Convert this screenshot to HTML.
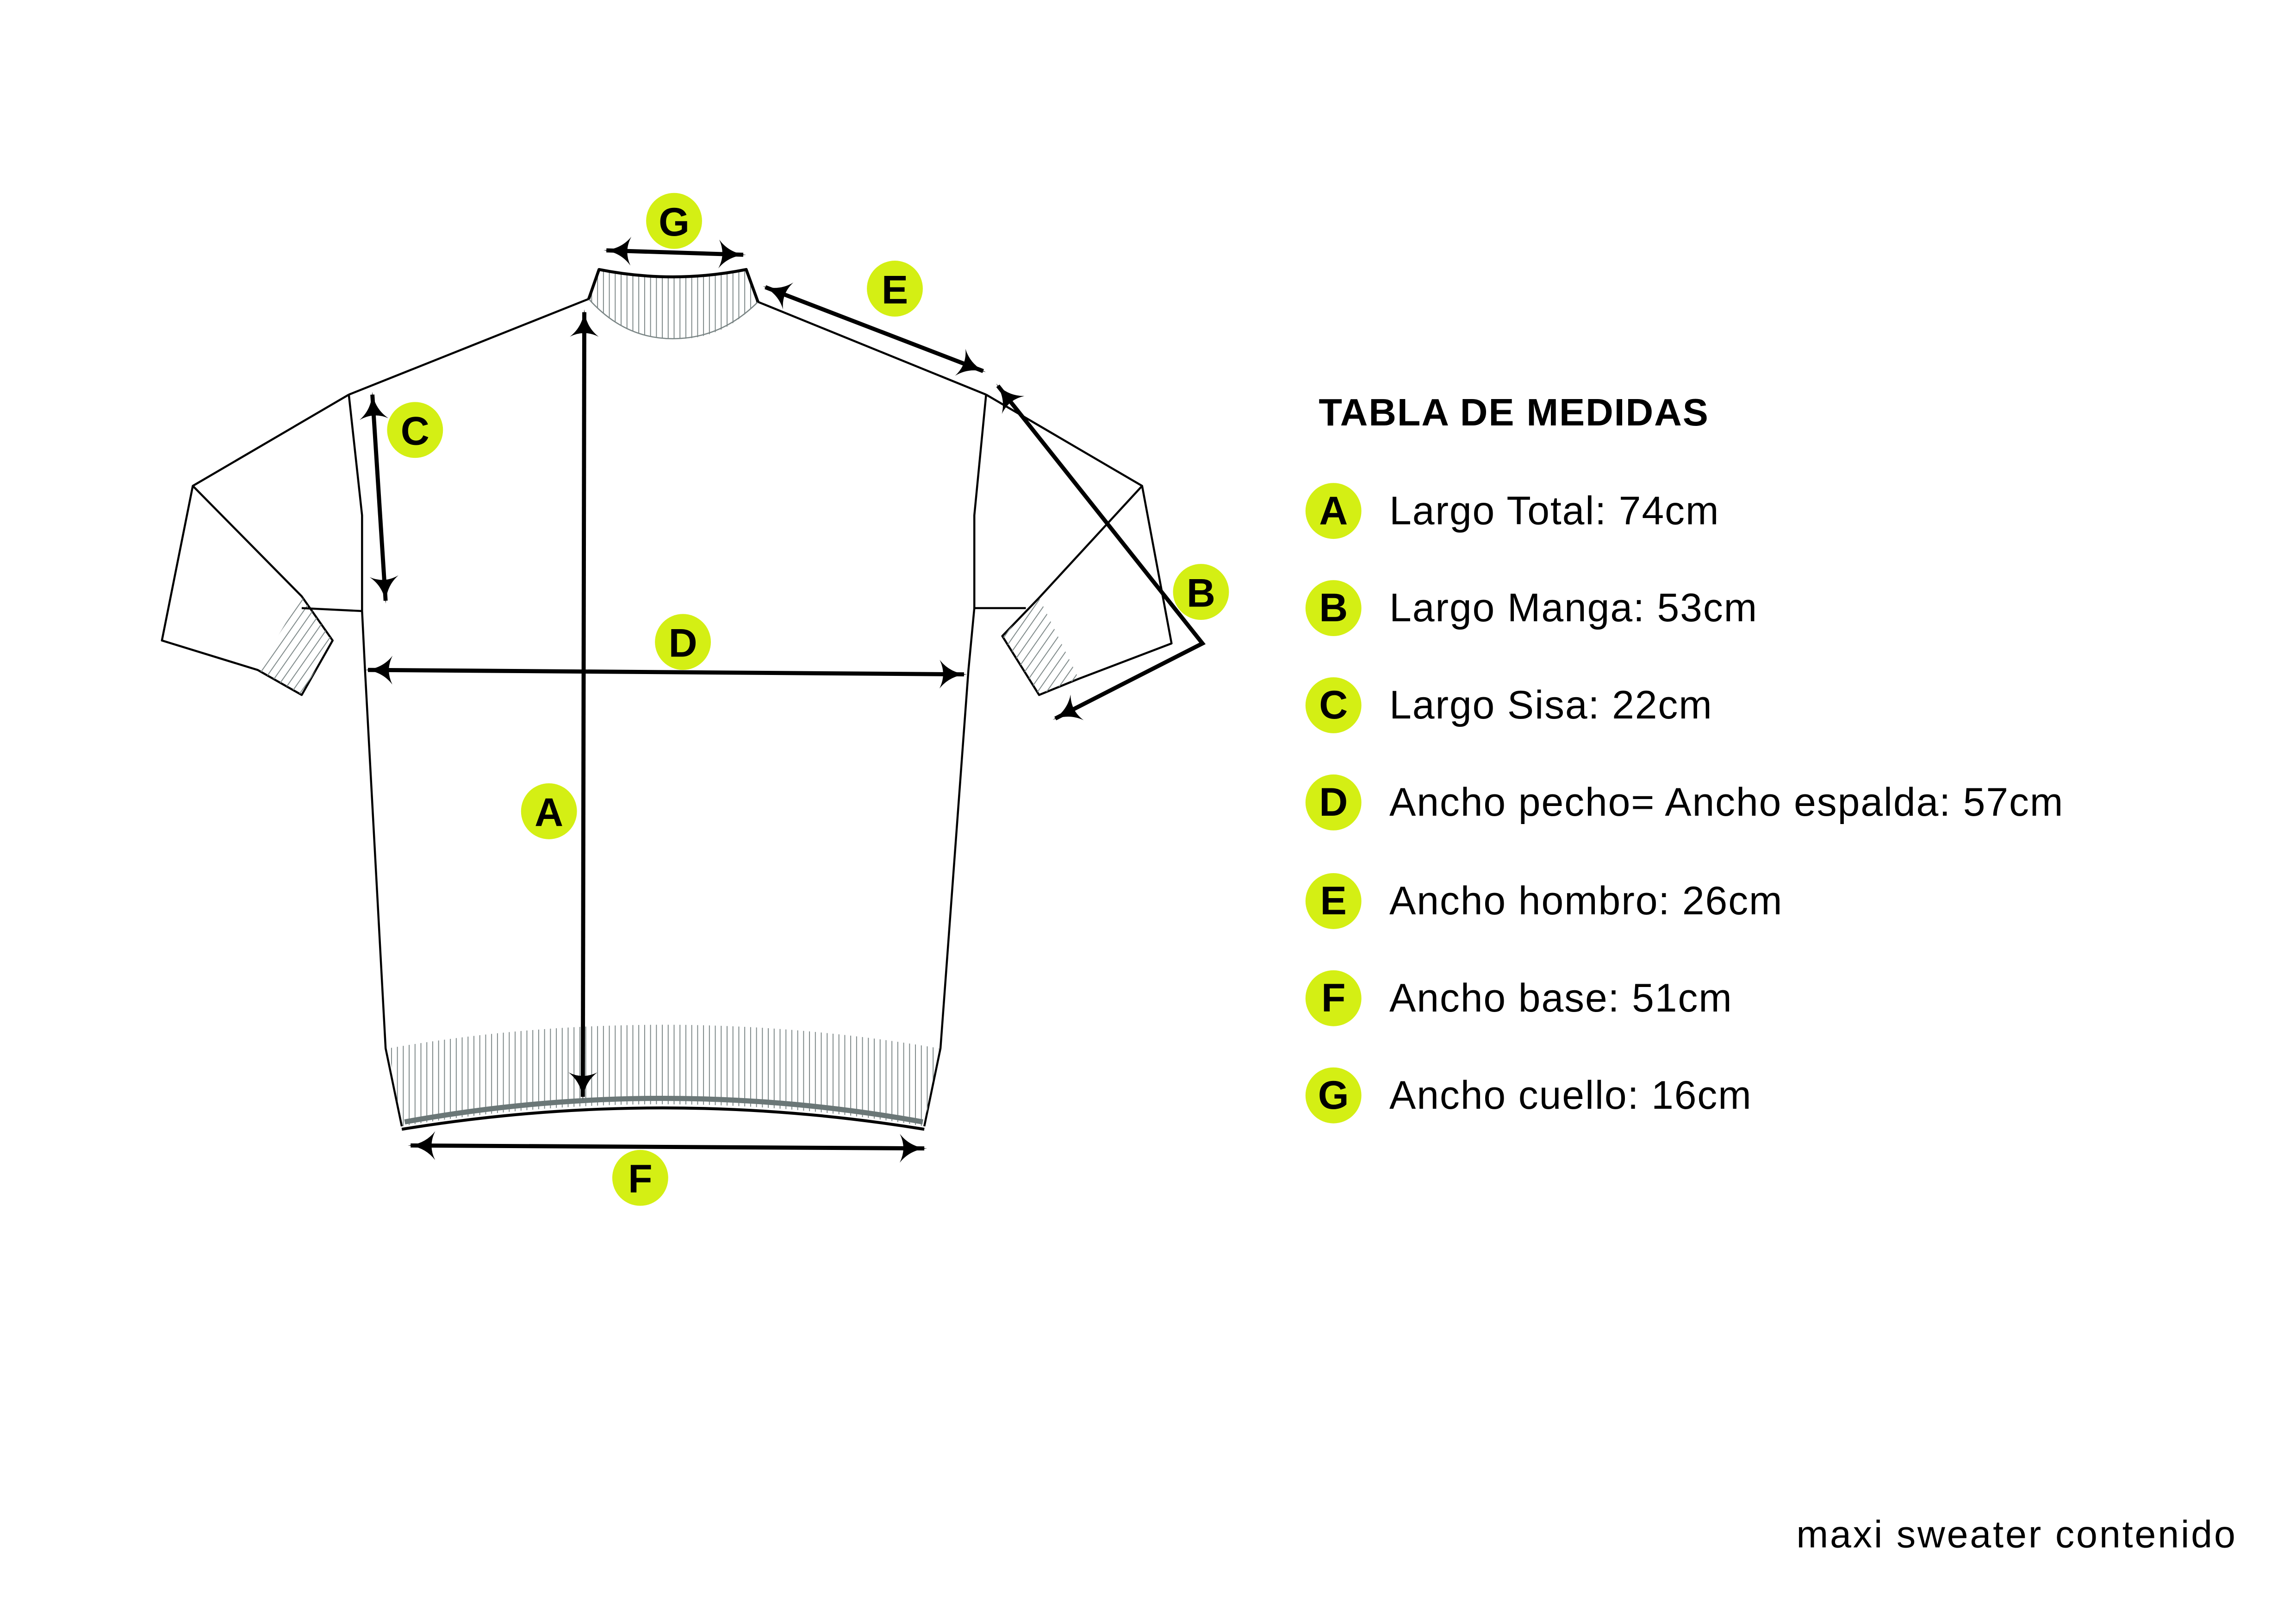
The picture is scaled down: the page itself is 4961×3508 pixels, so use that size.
<!DOCTYPE html>
<html><head><meta charset="utf-8"><style>
html,body{margin:0;padding:0;background:#fff}
svg{display:block}
</style></head><body>
<svg width="4961" height="3508" viewBox="0 0 1560 1103" xmlns="http://www.w3.org/2000/svg">
<defs>
<marker id="ah" viewBox="0 0 20 20" refX="18" refY="10" markerWidth="7" markerHeight="7" orient="auto-start-reverse" markerUnits="strokeWidth">
<path d="M20,10 Q8,9 1,0 Q6,10 1,20 Q8,11 20,10Z" fill="#000"/>
</marker>
<pattern id="rib" width="4" height="10" patternUnits="userSpaceOnUse"><line x1="2" y1="0" x2="2" y2="10" stroke="#7a8585" stroke-width="0.6"/></pattern>
<pattern id="ribd" width="5" height="5" patternUnits="userSpaceOnUse" patternTransform="rotate(35)"><line x1="2" y1="0" x2="2" y2="5" stroke="#7a8585" stroke-width="0.6"/></pattern>
</defs>
<rect width="1560" height="1103" fill="#fff"/>
<g fill="none" stroke="#000" stroke-width="1.4" stroke-linejoin="round">
<path d="M400,203 L407,183 Q457,193 507,183 L515,205 Q490,232 457,230 Q424,230 400,203Z" fill="url(#rib)" stroke="none"/>
<path d="M400,203 Q424,230 457,230 Q490,230 515,205" stroke="#7a8585" stroke-width="0.8"/>
<path d="M400,203 L407,183 Q457,193 507,183 L515,205" stroke-width="2"/>
<path d="M400,203 L237,268"/>
<path d="M515,205 L670,268"/>
<path d="M237,268 L131,330 L110,435 L175,455 L205,472 L226,435 L205,405 L131,330"/>
<path d="M175,455 L205,472 L226,435 L205,405 Z" fill="url(#ribd)" stroke="none"/>
<path d="M205,413 L246,415"/>
<path d="M670,268 L776,330 L796,437 L733,461 L706,472 L681,432 L706,406 L776,330"/>
<path d="M733,461 L706,472 L681,432 L706,406 Z" fill="url(#ribd)" stroke="none"/>
<path d="M662,413 L697,413"/>
<path d="M237,268 L246,350 L246,415 L248,455 L262,712 L273,765"/>
<path d="M670,268 L662,350 L662,413 L658,455 L639,712 L628,765"/>
<path d="M264,712 Q450,680 638,712 L628,765 Q450,735 273,765Z" fill="url(#rib)" stroke="none"/>
<path d="M275,762 Q450,730 627,762" stroke="#6b7777" stroke-width="3.5"/>
<path d="M273,767 Q450,738 628,767" stroke-width="2"/>
</g>
<g stroke="#000" stroke-width="2.8" fill="none" marker-start="url(#ah)" marker-end="url(#ah)">
<path d="M397,212 L396,745"/>
<path d="M412,170 L505,173"/>
<path d="M520,195 L668,252"/>
<path d="M253,268 L262,408"/>
<path d="M250,455 L655,458"/>
<path d="M279,778 L628,780"/>
<path d="M678,262 L817,437 L717,488"/>
</g>
<g font-family="Liberation Sans, sans-serif" font-weight="bold" font-size="27" text-anchor="middle">
<circle cx="458" cy="150" r="19" fill="#d4ef14"/><text x="458" y="160">G</text>
<circle cx="608" cy="196" r="19" fill="#d4ef14"/><text x="608" y="206">E</text>
<circle cx="282" cy="292" r="19" fill="#d4ef14"/><text x="282" y="302">C</text>
<circle cx="816" cy="402" r="19" fill="#d4ef14"/><text x="816" y="412">B</text>
<circle cx="464" cy="436" r="19" fill="#d4ef14"/><text x="464" y="446">D</text>
<circle cx="373" cy="551" r="19" fill="#d4ef14"/><text x="373" y="561">A</text>
<circle cx="435" cy="800" r="19" fill="#d4ef14"/><text x="435" y="810">F</text>
</g>
<text x="896" y="289" font-family="Liberation Sans, sans-serif" font-weight="bold" font-size="26" letter-spacing="0.6">TABLA DE MEDIDAS</text>
<g font-family="Liberation Sans, sans-serif" font-size="27">
<g font-weight="bold" text-anchor="middle">
<circle cx="906" cy="347" r="19" fill="#d4ef14"/><text x="906" y="356">A</text>
<circle cx="906" cy="413" r="19" fill="#d4ef14"/><text x="906" y="422">B</text>
<circle cx="906" cy="479" r="19" fill="#d4ef14"/><text x="906" y="488">C</text>
<circle cx="906" cy="545" r="19" fill="#d4ef14"/><text x="906" y="554">D</text>
<circle cx="906" cy="612" r="19" fill="#d4ef14"/><text x="906" y="621">E</text>
<circle cx="906" cy="678" r="19" fill="#d4ef14"/><text x="906" y="687">F</text>
<circle cx="906" cy="744" r="19" fill="#d4ef14"/><text x="906" y="753">G</text>
</g>
<g letter-spacing="0.6">
<text x="944" y="356">Largo Total: 74cm</text>
<text x="944" y="422">Largo Manga: 53cm</text>
<text x="944" y="488">Largo Sisa: 22cm</text>
<text x="944" y="554">Ancho pecho= Ancho espalda: 57cm</text>
<text x="944" y="621">Ancho hombro: 26cm</text>
<text x="944" y="687">Ancho base: 51cm</text>
<text x="944" y="753">Ancho cuello: 16cm</text>
</g>
</g>
<text x="1520" y="1051" text-anchor="end" font-family="Liberation Sans, sans-serif" font-size="26" letter-spacing="1.2">maxi sweater contenido</text>
</svg>
</body></html>
